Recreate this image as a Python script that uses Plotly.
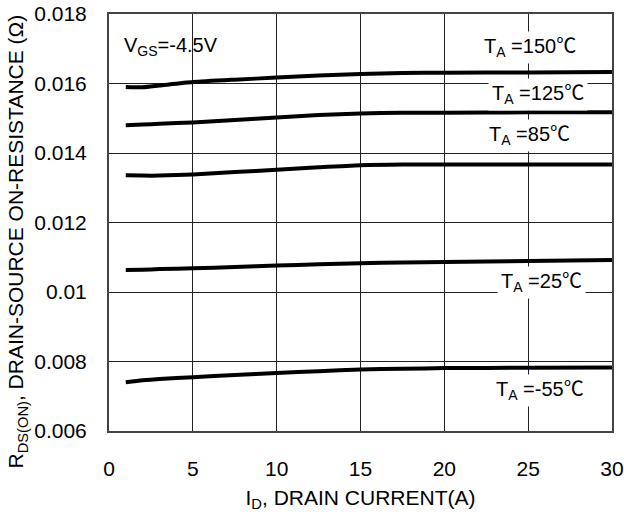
import plotly.graph_objects as go

# Drain current (A)
current = [1, 2, 3, 5, 7.5, 10, 12.5, 15, 17.5, 20, 25, 30]

# R_DS(ON) (ohm) per ambient temperature
r_150 = [0.01590, 0.01589, 0.01594, 0.01604, 0.01611, 0.01617, 0.01623, 0.01627, 0.01630, 0.01631, 0.01632, 0.01633]
r_125 = [0.01480, 0.01482, 0.01484, 0.01488, 0.01495, 0.01502, 0.01509, 0.01514, 0.01516, 0.01516, 0.01517, 0.01517]
r_85 = [0.01336, 0.01335, 0.01335, 0.01338, 0.01345, 0.01352, 0.01359, 0.01365, 0.01367, 0.01367, 0.01367, 0.01367]
r_25 = [0.01063, 0.01064, 0.01066, 0.01068, 0.01072, 0.01076, 0.01080, 0.01083, 0.01085, 0.01086, 0.01089, 0.01092]
r_m55 = [0.00740, 0.00746, 0.00750, 0.00755, 0.00761, 0.00767, 0.00772, 0.00777, 0.00779, 0.00781, 0.00782, 0.00783]

series = [r_150, r_125, r_85, r_25, r_m55]

x_ticks = [0, 5, 10, 15, 20, 25, 30]
y_ticks = [0.006, 0.008, 0.010, 0.012, 0.014, 0.016, 0.018]
y_tick_text = ["0.006", "0.008", "0.01", "0.012", "0.014", "0.016", "0.018"]

labels = ["T<sub>A</sub> =150℃", "T<sub>A</sub> =125℃", "T<sub>A</sub> =85℃",
          "T<sub>A</sub> =25℃", "T<sub>A</sub> =-55℃"]
label_x = [25.1, 25.6, 25.1, 25.8, 25.7]
label_y = [0.01703, 0.01567, 0.01449, 0.01026, 0.00717]

FONT = "Liberation Sans, Arial, Noto Sans CJK SC, sans-serif"

fig = go.Figure()
for ys in series:
    fig.add_trace(go.Scatter(x=current, y=ys, mode="lines",
                             line=dict(color="black", width=4, shape="spline", smoothing=0.6),
                             showlegend=False, hoverinfo="skip"))

for t, lx, ly in zip(labels, label_x, label_y):
    fig.add_annotation(x=lx, y=ly, text=t, showarrow=False, xref="x", yref="y",
                       font=dict(family=FONT, size=20, color="black"),
                       bgcolor="white", borderpad=3)

fig.add_annotation(x=3.7, y=0.01706, text="V<sub>GS</sub>=-4.5V", showarrow=False,
                   xref="x", yref="y", font=dict(family=FONT, size=20, color="black"))

# y-axis title, placed as rotated text
fig.add_annotation(x=-0.182, y=0.4556, xref="paper", yref="paper", textangle=-90,
                   text="R<sub>DS(ON)</sub>, DRAIN-SOURCE ON-RESISTANCE (Ω)",
                   showarrow=False, xanchor="center", yanchor="middle",
                   font=dict(family=FONT, size=21, color="black"))

fig.update_layout(
    width=624, height=512,
    margin=dict(l=109, r=12, t=14, b=81, autoexpand=False),
    paper_bgcolor="white", plot_bgcolor="white",
    font=dict(family=FONT, color="black"),
)
fig.update_xaxes(range=[0, 30], tickvals=x_ticks, ticktext=[str(v) for v in x_ticks],
                 showgrid=True, gridcolor="#222", gridwidth=1,
                 showline=True, linecolor="#444", linewidth=2, mirror=True,
                 ticks="outside", ticklen=18, tickcolor="rgba(0,0,0,0)",
                 tickfont=dict(family=FONT, size=21, color="black"),
                 ticklabeloverflow="allow",
                 zeroline=False,
                 title=dict(text="I<sub>D</sub>, DRAIN CURRENT(A)",
                            font=dict(family=FONT, size=21, color="black"), standoff=16))
fig.update_yaxes(range=[0.006, 0.018], tickvals=y_ticks, ticktext=y_tick_text,
                 showgrid=True, gridcolor="#222", gridwidth=1,
                 showline=True, linecolor="#444", linewidth=2, mirror=True,
                 ticks="outside", ticklen=16, tickcolor="rgba(0,0,0,0)",
                 tickfont=dict(family=FONT, size=21, color="black"),
                 ticklabeloverflow="allow",
                 zeroline=False)

# remove the default page margin so the figure fills the window exactly
fig.write_html("out.html", config={"displayModeBar": False},
               post_script="document.body.style.margin='0';document.body.style.overflow='hidden';")
